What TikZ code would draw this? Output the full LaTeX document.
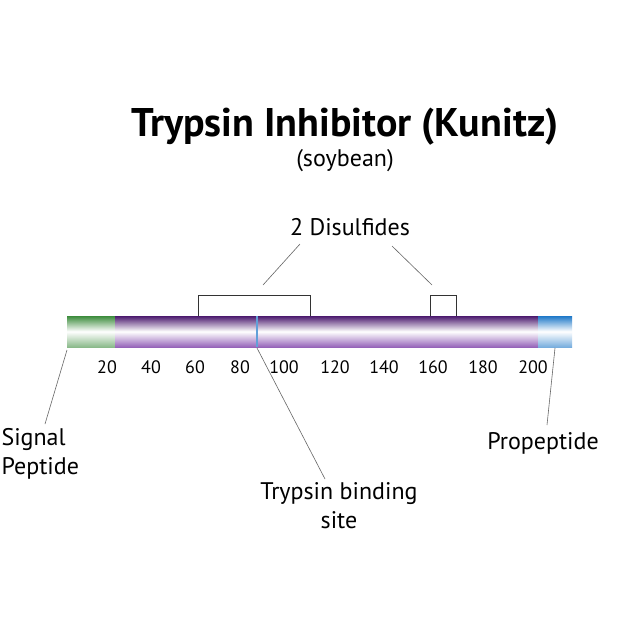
\documentclass[tikz,border=0pt]{standalone}
\usepackage{fontspec}
\setmainfont{PT Sans}
\begin{document}
\begin{tikzpicture}[x=1pt,y=-1pt,
  lbl/.style={font=\fontsize{24}{29}\selectfont, align=center},
  num/.style={font=\fontsize{18}{20}\selectfont},
  ln/.style={draw=gray!80!black, line width=0.6pt},
  br/.style={draw=black!80, line width=0.9pt}]
\useasboundingbox[fill=white] (0,0) rectangle (640,640);
\definecolor{pdark}{RGB}{75,25,110}
\definecolor{pmid}{RGB}{150,100,185}
\definecolor{gdark}{RGB}{60,140,60}
\definecolor{bdark}{RGB}{30,120,200}
\node[font=\bfseries\fontsize{40}{44}\selectfont] (title) at (345,127) {Trypsin Inhibitor (Kunitz)};
\node[lbl] (sub) at (345,161) {(soybean)};
\shade[top color=gdark, bottom color=gdark!60, middle color=white] (67,316) rectangle (115,347);
\shade[top color=pdark, bottom color=pmid, middle color=white] (115,316) rectangle (538,347);
\shade[top color=bdark, bottom color=bdark!60, middle color=white] (538,316) rectangle (572,347);
\draw[bdark!70, line width=2.5pt] (257,316) -- (257,347);
\coordinate (sig) at (67,350);
\coordinate (tbs) at (257,348);
\coordinate (pro) at (555,348);
\foreach \v/\x in {20/107,40/151,60/195,80/240,100/284,120/335,140/384,160/433,180/483,200/533}
  \node[num] (n\v) at (\x,367) {\v};
\draw[br] (198,316) -- (198,295) -- (310,295) -- (310,316);
\draw[br] (430,316) -- (430,295) -- (456,295) -- (456,316);
\node[lbl] (dis) at (350,227) {2 Disulfides};
\coordinate (d1) at (263,285);
\coordinate (d2) at (432,285);
\draw[ln] (300,244) -- (d1);
\draw[ln] (392,246) -- (d2);
\node[lbl, align=left, anchor=west] (sp) at (-2,454) {Signal\\Peptide};
\node[lbl] (pp) at (543,443) {Propeptide};
\node[lbl] (tb) at (339,506) {Trypsin binding\\site};
\draw[ln] (sig) -- (45,424);
\draw[ln] (pro) -- (547,425);
\draw[ln] (tbs) -- (325,479);
\end{tikzpicture}
\end{document}
